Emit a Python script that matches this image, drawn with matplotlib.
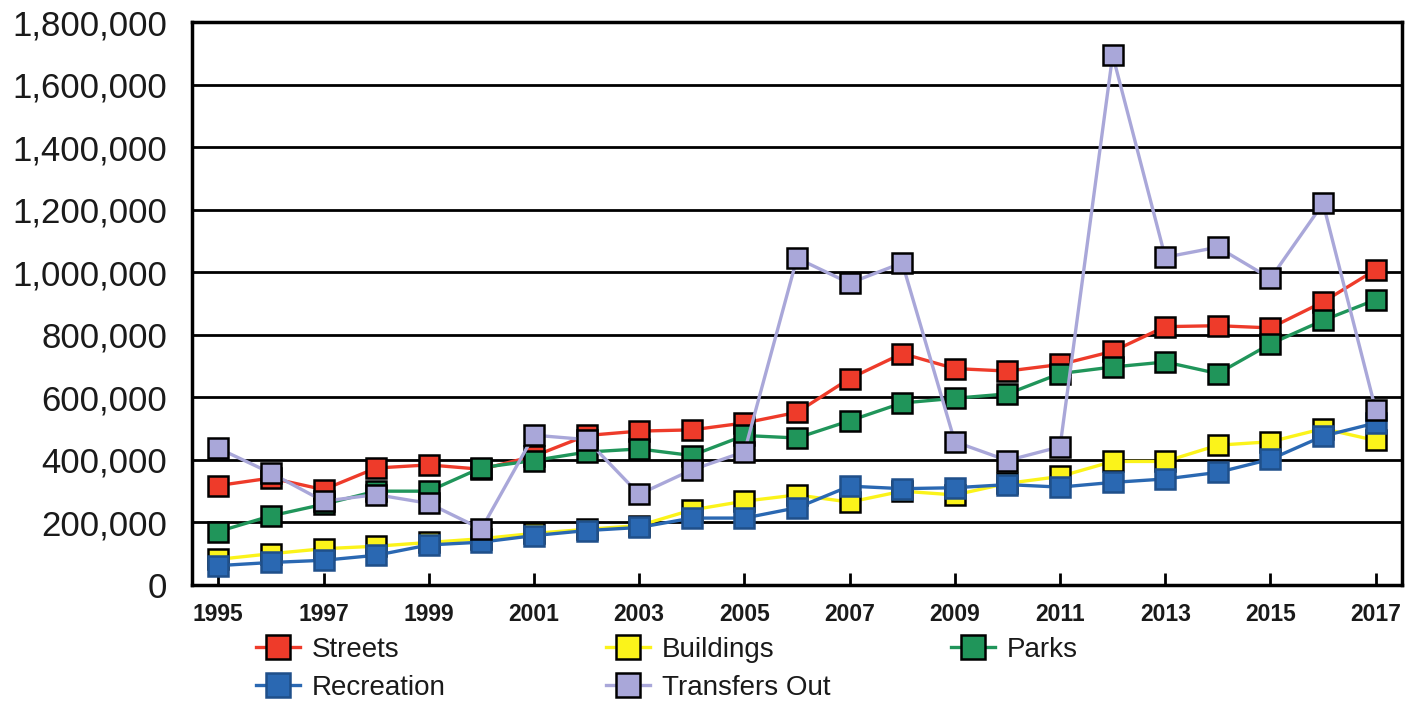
import matplotlib
matplotlib.use("Agg")
import matplotlib.pyplot as plt
from matplotlib.ticker import FuncFormatter

plt.rcParams['font.family'] = ['Liberation Sans', 'DejaVu Sans']

years = list(range(1995, 2018))

streets = [318000, 342000, 305000, 374000, 384000, 370000, 412000, 478000,
           492000, 496000, 518000, 552000, 660000, 740000, 692000, 684000,
           705000, 747000, 826000, 829000, 822000, 905000, 1008000]
buildings = [82000, 100000, 116000, 124000, 136000, 148000, 165000, 178000,
             190000, 240000, 268000, 288000, 265000, 300000, 288000, 325000,
             347000, 395000, 395000, 447000, 458000, 500000, 462000]
parks = [171000, 221000, 258000, 300000, 300000, 375000, 398000, 425000,
         435000, 414000, 478000, 470000, 525000, 582000, 597000, 611000,
         676000, 697000, 713000, 676000, 771000, 846000, 912000]
recreation = [62000, 72000, 79000, 95000, 128000, 137000, 158000, 174000,
              184000, 214000, 214000, 247000, 316000, 308000, 311000, 321000,
              313000, 328000, 339000, 360000, 402000, 476000, 518000]
transfers_out = [437000, 358000, 268000, 289000, 261000, 179000, 479000, 465000,
                 290000, 368000, 426000, 1045000, 965000, 1030000, 458000, 398000,
                 442000, 1694000, 1048000, 1080000, 980000, 1220000, 560000]

series = [
    ("Streets", streets, "#ee3b2a", "black"),
    ("Buildings", buildings, "#fbf31a", "black"),
    ("Parks", parks, "#20955a", "black"),
    ("Recreation", recreation, "#2a68b2", "#1f4f8a"),
    ("Transfers Out", transfers_out, "#a9a7d9", "black"),
]

fig = plt.figure(figsize=(14.24, 7.06), dpi=100)
ax = fig.add_axes([192 / 1424, 1 - 585 / 706, (1402 - 192) / 1424, (585 - 22) / 706])

handles = {}
for z, (name, vals, color, edge) in enumerate(series):
    (h,) = ax.plot(years, vals, color=color, lw=2.4, marker="s", ms=15,
                   mfc=color, mec=edge, mew=1.8, zorder=3 + z, label=name)
    handles[name] = h

ax.set_xlim(1994.5, 2017.5)
ax.set_ylim(0, 1800000)
ax.set_yticks(range(0, 1800001, 200000))
ax.yaxis.set_major_formatter(FuncFormatter(lambda v, p: f"{int(v):,}"))
ax.set_xticks(years[::2])

ax.grid(axis="y", color="black", lw=2)
ax.set_axisbelow(True)
for s in ax.spines.values():
    s.set_linewidth(2.5)
    s.set_color("black")

ax.tick_params(axis="y", length=0, pad=18, labelsize=25, colors="#1a1a1a")
ax.tick_params(axis="x", direction="in", length=9, width=2, pad=13,
               labelsize=16.5, colors="black")
for lbl in ax.get_xticklabels():
    lbl.set_fontweight("bold")
    lbl.set_color("#1a1a1a")

# legend laid out as three columns under the plot
columns = [(["Streets", "Recreation"], 256),
           (["Buildings", "Transfers Out"], 606),
           (["Parks"], 951)]
for names, xpx in columns:
    leg = fig.legend([handles[n] for n in names], names, frameon=False,
                     loc="upper left", bbox_to_anchor=(xpx / 1424, 1 - 637 / 706),
                     fontsize=20, handlelength=1.6, handletextpad=0.4,
                     labelspacing=0.42, borderaxespad=0, borderpad=0,
                     markerscale=1.15)
    for t in leg.get_texts():
        t.set_color("#1a1a1a")

fig.savefig("out.png", dpi=100)
